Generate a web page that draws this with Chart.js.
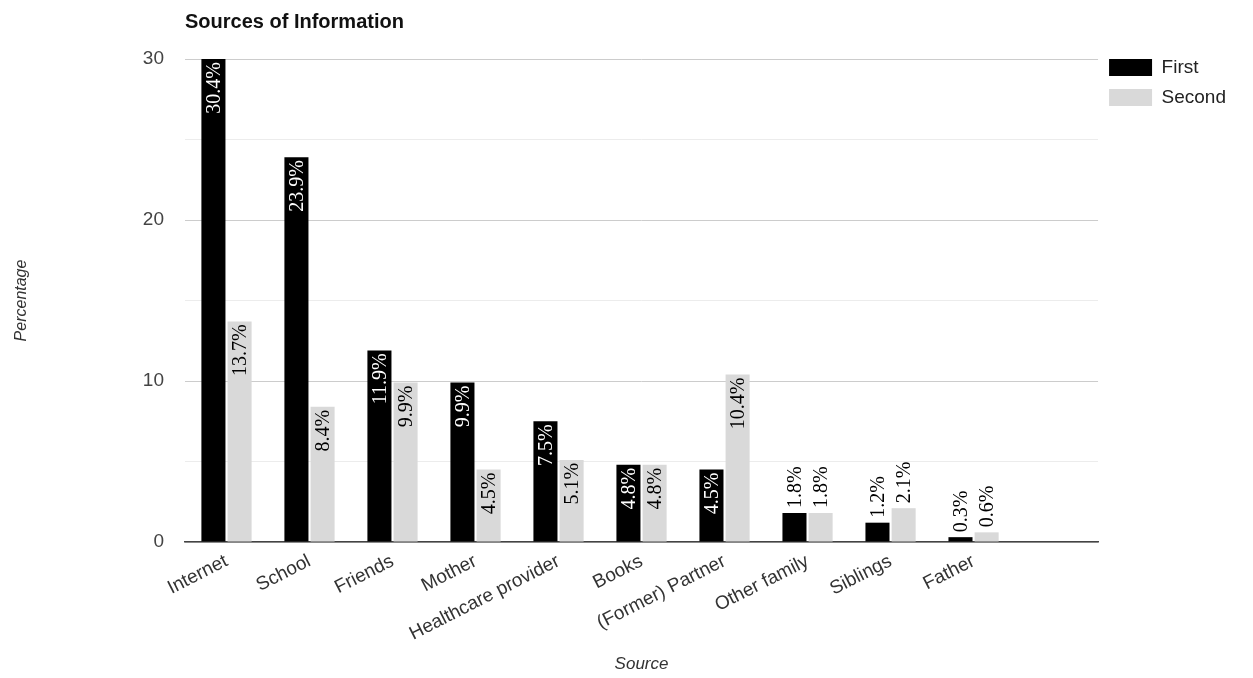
<!DOCTYPE html>
<html>
<head>
<meta charset="utf-8">
<title>Sources of Information</title>
<script src="https://cdn.jsdelivr.net/npm/chart.js@4.4.1/dist/chart.umd.min.js"></script>
<style>
  html, body { margin: 0; padding: 0; background: #fff; }
  #wrap { width: 1253px; height: 678px; }
</style>
</head>
<body>
<div id="wrap"><canvas id="sourcesChart"></canvas></div>
<script>
// Share of respondents naming each source (percent)
const categories = ['Internet', 'School', 'Friends', 'Mother', 'Healthcare provider',
  'Books', '(Former) Partner', 'Other family', 'Siblings', 'Father'];
const firstValues = [30.4, 23.9, 11.9, 9.9, 7.5, 4.8, 4.5, 1.8, 1.2, 0.3];
const secondValues = [13.7, 8.4, 9.9, 4.5, 5.1, 4.8, 10.4, 1.8, 2.1, 0.6];
const yTickLabels = [0, 10, 20, 30];

Chart.defaults.font.family = '"Liberation Sans", Arial, sans-serif';
Chart.defaults.color = '#333';

// x is a linear index axis so the plot can run one empty slot past "Father"
function toPoints(values) {
  return values.map((v, i) => ({ x: i, y: v }));
}

// rotated percentage labels: inside the bar when it fits, above it otherwise
const barLabels = {
  id: 'barLabels',
  afterDatasetsDraw(chart) {
    const ctx = chart.ctx;
    const top = chart.chartArea.top;
    ctx.save();
    ctx.font = '20px "Liberation Serif", "Times New Roman", serif';
    ctx.textBaseline = 'middle';
    chart.data.datasets.forEach((ds, di) => {
      chart.getDatasetMeta(di).data.forEach((bar, i) => {
        const text = ds.data[i].y.toFixed(1) + '%';
        const w = ctx.measureText(text).width;
        const y = Math.max(bar.y, top);
        const inside = bar.base - y > w + 6;
        ctx.save();
        ctx.translate(bar.x, inside ? y + 3 : y - 5);
        ctx.rotate(-Math.PI / 2);
        ctx.textAlign = inside ? 'right' : 'left';
        ctx.fillStyle = inside && di === 0 ? '#fff' : '#000';
        ctx.fillText(text, 0, 1);
        ctx.restore();
      });
    });
    ctx.restore();
  }
};

new Chart(document.getElementById('sourcesChart'), {
  type: 'bar',
  data: {
    datasets: [
      { label: 'First', data: toPoints(firstValues), backgroundColor: '#000000' },
      { label: 'Second', data: toPoints(secondValues), backgroundColor: '#d9d9d9' }
    ]
  },
  options: {
    responsive: true,
    maintainAspectRatio: false,
    animation: false,
    categoryPercentage: 0.63,
    barPercentage: 0.92,
    layout: { padding: { top: 10, right: 17, bottom: 0, left: 0 } },
    plugins: {
      title: {
        display: true,
        text: 'Sources of Information',
        align: 'start',
        fullSize: false,
        color: '#111',
        font: { size: 20, weight: 'bold' },
        padding: { top: 0, bottom: 25 }
      },
      legend: {
        position: 'right',
        align: 'start',
        title: { display: true, text: '', font: { size: 10 }, padding: { top: 25, bottom: 0 } },
        labels: {
          boxWidth: 43,
          boxHeight: 17,
          padding: 11,
          color: '#222',
          font: { size: 19 }
        }
      },
      tooltip: { enabled: false }
    },
    scales: {
      x: {
        type: 'linear',
        min: -0.5,
        max: 10.5,
        offset: false,
        afterBuildTicks: (scale) => {
          scale.ticks = categories.map((c, i) => ({ value: i }));
        },
        afterFit: (scale) => { scale.height = 136; },
        grid: { display: false, drawTicks: false },
        border: { display: true, color: '#444', width: 1.5 },
        ticks: {
          autoSkip: false,
          minRotation: 27,
          maxRotation: 27,
          padding: 8,
          color: '#333',
          font: { size: 19 },
          callback: (v) => categories[v]
        },
        title: {
          display: true,
          text: 'Source',
          color: '#333',
          font: { size: 17, style: 'italic' },
          padding: { top: 0, bottom: 4 }
        }
      },
      y: {
        min: 0,
        max: 30,
        afterFit: (scale) => { scale.width = 185; },
        border: { display: false },
        grid: {
          drawTicks: false,
          color: (c) => (c.tick && c.tick.value % 10 === 0 ? '#cccccc' : '#ececec')
        },
        ticks: {
          stepSize: 5,
          padding: 21,
          color: '#444',
          font: { size: 19 },
          callback: (v) => (yTickLabels.includes(v) ? v : '')
        },
        title: {
          display: true,
          text: 'Percentage',
          color: '#333',
          font: { size: 16, style: 'italic' },
          padding: { top: 12, bottom: 0 }
        }
      }
    }
  },
  plugins: [barLabels]
});
</script>
</body>
</html>
